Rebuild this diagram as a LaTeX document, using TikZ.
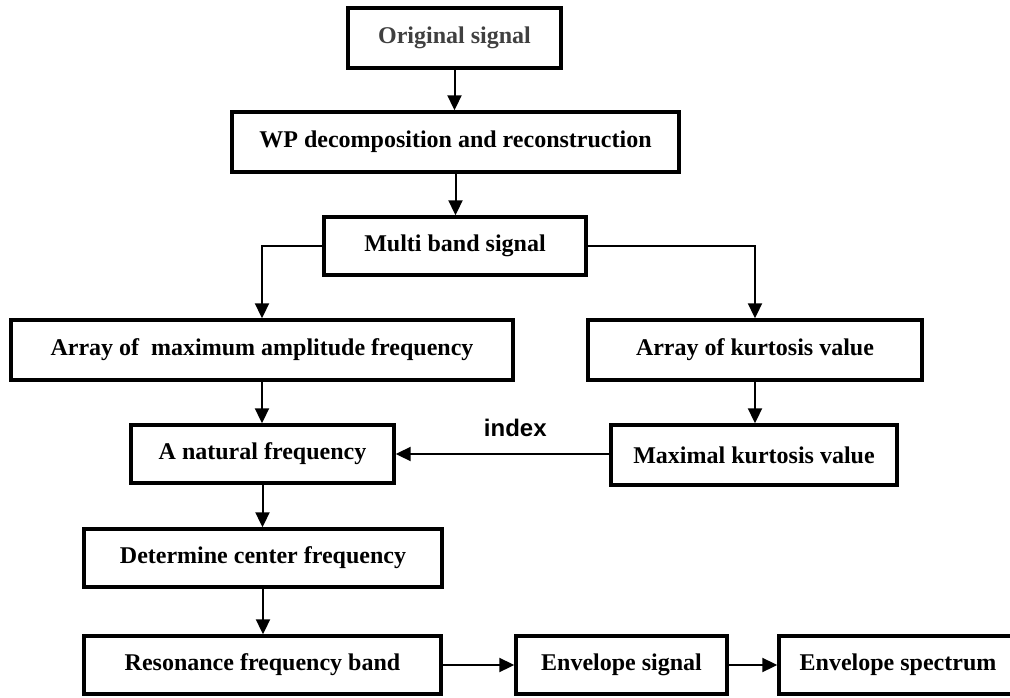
\documentclass[tikz,border=0pt]{standalone}
\usepackage{fontspec}
\setmainfont{Liberation Serif}
\newfontfamily\arialf{Liberation Sans}
\usetikzlibrary{arrows.meta}
\definecolor{origgray}{HTML}{404040}
\begin{document}
\begin{tikzpicture}[x=1pt,y=-1pt,
  box/.style={draw,line width=3.4pt,inner sep=0pt,font=\bfseries\fontsize{24}{28}\selectfont},
  conn/.style={line width=2pt},
  arr/.style={conn,-{Triangle[length=15pt,width=14pt]}}]
\path[use as bounding box,clip] (0,0) rectangle (1010,698);
\node[box,minimum width=213pt,minimum height=60pt,text=origgray] (orig) at (454.5,38) {Original signal};
\node[box,minimum width=447pt,minimum height=60pt] (wp) at (455.5,142) {WP decomposition and reconstruction};
\node[box,minimum width=262pt,minimum height=58pt] (multi) at (455,246) {Multi band signal};
\node[box,minimum width=502pt,minimum height=60pt] (amax) at (262,350) {Array of~~maximum amplitude frequency};
\node[box,minimum width=334pt,minimum height=60pt] (akurt) at (755,350) {Array of kurtosis value};
\node[box,minimum width=263pt,minimum height=58pt] (nat) at (262.5,454) {A natural frequency};
\node[box,minimum width=286pt,minimum height=60pt] (maxk) at (754,455) {Maximal kurtosis value};
\node[box,minimum width=358pt,minimum height=58pt] (det) at (263,558) {Determine center frequency};
\node[box,minimum width=357pt,minimum height=58pt] (res) at (262.5,665) {Resonance frequency band};
\node[box,minimum width=211pt,minimum height=58pt] (env) at (621.5,665) {Envelope signal};
\node[box,minimum width=238pt,minimum height=58pt] (spec) at (898,665) {Envelope spectrum};

\draw[arr] (orig.south) -- (orig.south |- wp.north);
\draw[arr] (wp.south) -- (wp.south |- multi.north);
\draw[arr] (multi.west) -| (amax.north);
\draw[arr] (multi.east) -| (akurt.north);
\draw[arr] (amax.south) -- (amax.south |- nat.north);
\draw[arr] (akurt.south) -- (akurt.south |- maxk.north);
\draw[arr] (maxk.west |- nat.east) -- node[pos=0.44,above=16pt,inner sep=0pt,font=\arialf\bfseries\fontsize{24}{28}\selectfont] (idx) {index} (nat.east);
\draw[arr] (nat.south) -- (nat.south |- det.north);
\draw[arr] (det.south) -- (det.south |- res.north);
\draw[arr] (res.east) -- (env.west);
\draw[arr] (env.east) -- (spec.west);
\end{tikzpicture}
\end{document}
